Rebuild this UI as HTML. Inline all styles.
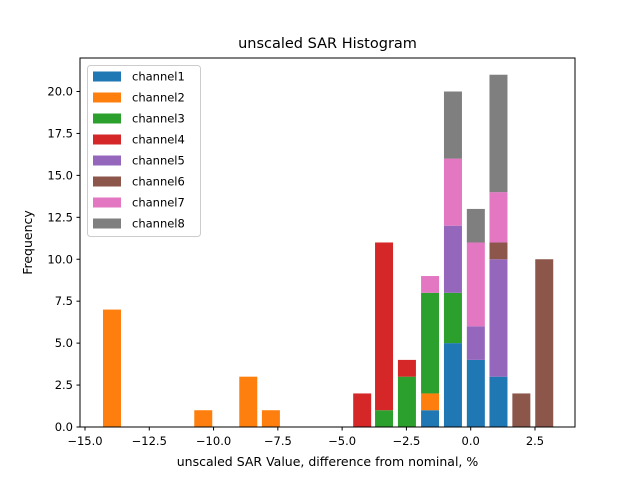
<!DOCTYPE html>
<html><head><meta charset="utf-8"><style>
body{margin:0;background:#fff;font-family:"Liberation Sans","DejaVu Sans",sans-serif;}
svg text{font-family:"DejaVu Sans","Liberation Sans",sans-serif;}
</style></head><body>
<svg id="chart" width="640" height="480" xmlns="http://www.w3.org/2000/svg">
<rect width="640" height="480" fill="#fff"/>
<g id="bars"></g>
<rect x="80" y="58" width="495" height="369" fill="none" stroke="#000" stroke-width="1"/>
<g id="xticks"></g>
<g id="yticks"></g>
<text x="327.5" y="48" text-anchor="middle" font-size="14.5">unscaled SAR Histogram</text>
<text x="327.5" y="466" text-anchor="middle" font-size="12.5">unscaled SAR Value, difference from nominal, %</text>
<text transform="translate(32,242.5) rotate(-90)" text-anchor="middle" font-size="12.5">Frequency</text>
<g id="legend"></g>
</svg>
<script>
const binCenters=[-13.95,-10.4,-8.65,-7.77,-4.22,-3.37,-2.48,-1.58,-0.69,0.2,1.08,1.97,2.86];
const seriesNames=["channel1","channel2","channel3","channel4","channel5","channel6","channel7","channel8"];
const channel1=[0,0,0,0,0,0,0,1,5,4,3,0,0];
const channel2=[7,1,3,1,0,0,0,1,0,0,0,0,0];
const channel3=[0,0,0,0,0,1,3,6,3,0,0,0,0];
const channel4=[0,0,0,0,2,10,1,0,0,0,0,0,0];
const channel5=[0,0,0,0,0,0,0,0,4,2,7,0,0];
const channel6=[0,0,0,0,0,0,0,0,0,0,1,2,10];
const channel7=[0,0,0,0,0,0,0,1,4,5,3,0,0];
const channel8=[0,0,0,0,0,0,0,0,4,2,7,0,0];
const xTickValues=[-15,-12.5,-10,-7.5,-5,-2.5,0,2.5];
const xTickLabels=["\u221215.0","\u221212.5","\u221210.0","\u22127.5","\u22125.0","\u22122.5","0.0","2.5"];
const yTickValues=[0,2.5,5,7.5,10,12.5,15,17.5,20];
const yTickLabels=["0.0","2.5","5.0","7.5","10.0","12.5","15.0","17.5","20.0"];
const colors=["#1f77b4","#ff7f0e","#2ca02c","#d62728","#9467bd","#8c564b","#e377c2","#7f7f7f"];
const series=[channel1,channel2,channel3,channel4,channel5,channel6,channel7,channel8];
const NS="http://www.w3.org/2000/svg";
const xs=v=>470.7+v*25.714;
const ys=v=>427-v*16.775;
const barW=0.7;
const bars=document.getElementById('bars');
const base=binCenters.map(()=>0);
series.forEach((s,si)=>{
  s.forEach((v,i)=>{
    if(v<=0)return;
    const r=document.createElementNS(NS,'rect');
    
    
    const x0=xs(binCenters[i]-barW/2),x1=xs(binCenters[i]+barW/2);
    r.setAttribute('x',x0);r.setAttribute('width',x1-x0);
    r.setAttribute('y',ys(base[i]+v));r.setAttribute('height',ys(base[i])-ys(base[i]+v));
    r.setAttribute('fill',colors[si]);
    bars.appendChild(r);
    base[i]+=v;
  });
});
const xg=document.getElementById('xticks');
xTickValues.forEach((v,i)=>{
  const x=xs(v);
  const l=document.createElementNS(NS,'line');
  
  
  l.setAttribute('x1',x);l.setAttribute('x2',x);l.setAttribute('y1',427);l.setAttribute('y2',430.5);l.setAttribute('stroke','#000');
  xg.appendChild(l);
  const t=document.createElementNS(NS,'text');
  
  
  t.setAttribute('x',x);t.setAttribute('y',445);t.setAttribute('text-anchor','middle');t.setAttribute('font-size','11.5');
  t.textContent=xTickLabels[i];xg.appendChild(t);
});
const yg=document.getElementById('yticks');
yTickValues.forEach((v,i)=>{
  const y=ys(v);
  const l=document.createElementNS(NS,'line');
  
  
  l.setAttribute('x1',76.5);l.setAttribute('x2',80);l.setAttribute('y1',y);l.setAttribute('y2',y);l.setAttribute('stroke','#000');
  yg.appendChild(l);
  const t=document.createElementNS(NS,'text');
  
  
  t.setAttribute('x',73);t.setAttribute('y',y+4);t.setAttribute('text-anchor','end');t.setAttribute('font-size','11.5');
  t.textContent=yTickLabels[i];yg.appendChild(t);
});
const lg=document.getElementById('legend');
const box=document.createElementNS(NS,'rect');


box.setAttribute('x',87.5);box.setAttribute('y',65.5);box.setAttribute('width',113);box.setAttribute('height',171);box.setAttribute('rx',3);
box.setAttribute('fill','#fff');box.setAttribute('fill-opacity','0.8');box.setAttribute('stroke','#ccc');
lg.appendChild(box);
seriesNames.forEach((n,i)=>{
  const y=75.5+i*21;
  const p=document.createElementNS(NS,'rect');
  
  
  p.setAttribute('x',93);p.setAttribute('y',y-4);p.setAttribute('width',28);p.setAttribute('height',10);p.setAttribute('fill',colors[i]);
  lg.appendChild(p);
  const t=document.createElementNS(NS,'text');
  
  
  t.setAttribute('x',132);t.setAttribute('y',y+5);t.setAttribute('font-size','11.5');
  t.textContent=n;lg.appendChild(t);
});
</script>
</body></html>
